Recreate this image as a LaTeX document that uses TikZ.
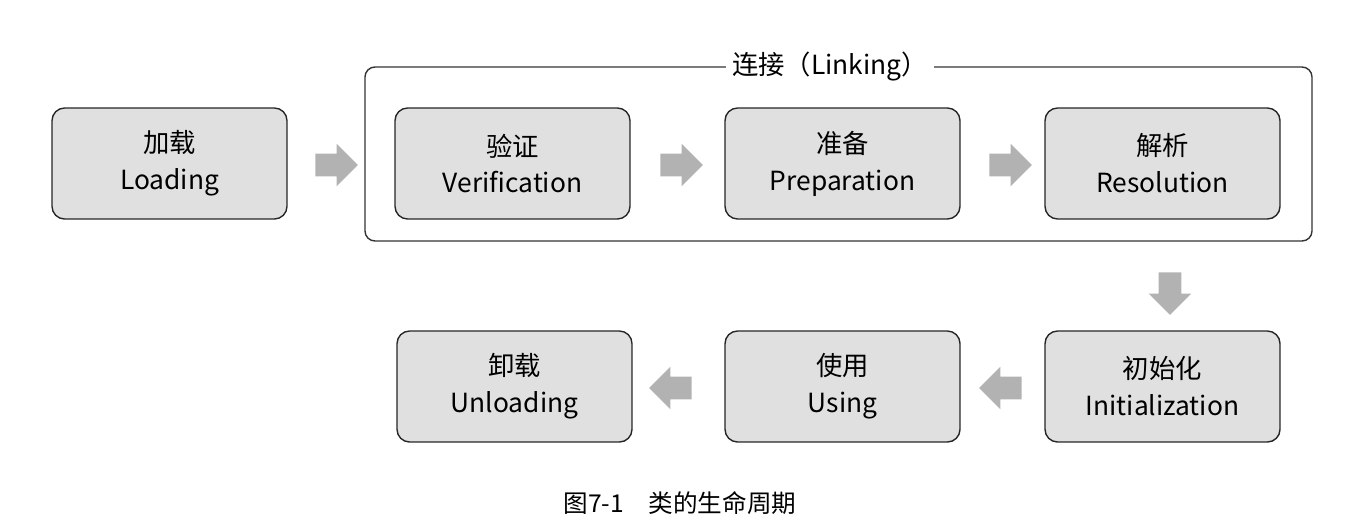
\documentclass[tikz,border=0pt]{standalone}
\usepackage{fontspec}
\setmainfont{Noto Sans CJK SC}
\newfontfamily\capfont{Noto Sans CJK SC}
\usetikzlibrary{shapes.arrows}

\tikzset{
  stage/.style={draw=black!85, fill=black!12, rounded corners=2.5mm, line width=.8pt,
    minimum width=4.7cm, minimum height=2.22cm, align=center, font=\fontsize{15}{21}\selectfont},
  blockarrow/.style={single arrow, fill=black!30, draw=none, inner sep=.22cm,
    single arrow head extend=.2cm, single arrow tip angle=90, minimum height=.85cm}
}

\begin{document}
\begin{tikzpicture}[x=.02cm, y=-.02cm]
  \useasboundingbox (0,0) rectangle (1348,524);
  % linking frame
  \draw [rounded corners=2mm, line width=.8pt, black!80] (365,67) rectangle (1312,241);
  \node [fill=white, font=\fontsize{15}{19}\selectfont] (linking) at (830,67) {连接（Linking）};
  % stages
  \node [stage] (load) at (169.5,163.5) {加载\\Loading};
  \node [stage] (verify) at (512.5,163.5) {验证\\Verification};
  \node [stage] (prep) at (842.5,163.5) {准备\\Preparation};
  \node [stage] (resolve) at (1162.5,163.5) {解析\\Resolution};
  \node [stage] (init) at (1162.5,386.5) {初始化\\Initialization};
  \node [stage] (use) at (842.5,386.5) {使用\\Using};
  \node [stage] (unload) at (514.5,386.5) {卸载\\Unloading};
  % arrows
  \node [blockarrow] (a1) at (331,165) {};
  \node [blockarrow] (a2) at (676,165) {};
  \node [blockarrow] (a3) at (1005,165) {};
  \node [blockarrow, shape border rotate=270] (a4) at (1170,288) {};
  \node [blockarrow, shape border rotate=180] (a5) at (1006,388) {};
  \node [blockarrow, shape border rotate=180] (a6) at (676,388) {};
  % caption
  \node [font=\capfont\fontsize{14}{18}\selectfont] (cap) at (680,503) {图7-1\quad 类的生命周期};
\end{tikzpicture}
\end{document}
